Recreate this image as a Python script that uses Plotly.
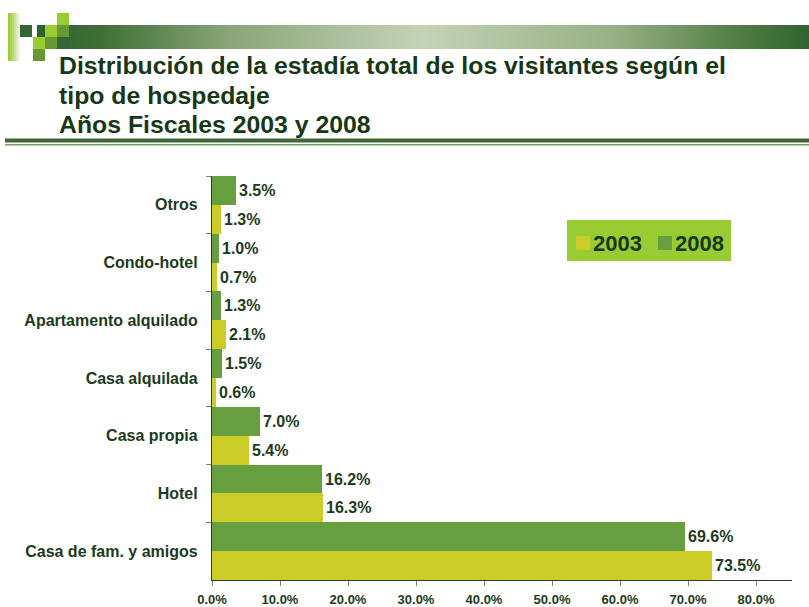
import plotly.graph_objects as go

categories = ["Casa de fam. y amigos", "Hotel", "Casa propia", "Casa alquilada",
              "Apartamento alquilado", "Condo-hotel", "Otros"]
values_2003 = [73.5, 16.3, 5.4, 0.6, 2.1, 0.7, 1.3]
values_2008 = [69.6, 16.2, 7.0, 1.5, 1.3, 1.0, 3.5]
x_tick_vals = [0, 10, 20, 30, 40, 50, 60, 70, 80]
x_tick_text = ["0.0%", "10.0%", "20.0%", "30.0%", "40.0%", "50.0%", "60.0%", "70.0%", "80.0%"]
series_names = ["2003", "2008"]
title_lines = ["Distribución de la estadía total de los visitantes según el",
               "tipo de hospedaje",
               "Años Fiscales 2003 y 2008"]

W, H = 809, 607
FONT = "Liberation Sans, Arial, sans-serif"
DARK = "#1c3b1c"
TITLE_C = "#163816"
C2003 = "#cccc29"
C2008 = "#669e40"
colors = [C2003, C2008]

fig = go.Figure()

for name, vals, col in zip(series_names, [values_2003, values_2008], colors):
    fig.add_trace(go.Bar(
        y=categories, x=vals, name=name, orientation="h",
        marker=dict(color=col, line=dict(width=0)),
        text=[f"{v:.1f}%" for v in vals], textposition="outside",
        textfont=dict(family=FONT, size=16, color=DARK, weight="bold"),
        constraintext="none", cliponaxis=False, hoverinfo="skip", showlegend=False,
    ))

# Header decoration on an overlay pixel-space axis pair
fig.add_trace(go.Scatter(
    x=[37, 809, 809, 37, 37], y=[25, 25, 49, 49, 25],
    xaxis="x2", yaxis="y2", mode="lines", line=dict(width=0),
    fill="toself",
    fillgradient=dict(type="horizontal",
                      colorscale=[[0, "#2f622f"], [0.08, "#3e6e35"], [0.25, "#8aa67a"],
                                  [0.5, "#c4d3b5"], [0.75, "#96b085"], [0.92, "#4d7a40"],
                                  [1, "#2f632f"]]),
    showlegend=False, hoverinfo="skip",
))

shapes = []
def sq(x0, y0, x1, y1, color):
    shapes.append(dict(type="rect", xref="x2", yref="y2", x0=x0, y0=y0, x1=x1, y1=y1,
                       fillcolor=color, line=dict(width=0), layer="above"))

strip = ["#9acb3b", "#a8d252", "#b8da70", "#c9e393", "#dbecb8", "#edf6dd", "#ffffff"]
for i, c in enumerate(strip):
    sq(8 + i * 2, 13, 10 + i * 2, 61, c)
sq(20, 25, 32, 37, "#336633")
sq(57, 13, 69, 25, "#99cc33")
sq(45, 25, 57, 37, "#99cc33")
sq(57, 25, 69, 37, "#669933")
sq(33, 37, 45, 49, "#99cc33")
sq(45, 37, 57, 49, "#669933")
sq(57, 37, 69, 49, "#336633")
sq(33, 49, 45, 61, "#669933")
sq(5, 138.5, 809, 142.5, "#3d6b35")
sq(5, 144, 809, 145.5, "#7a9a6e")

annotations = []
for line, yc in zip(title_lines, [65.5, 95, 124.5]):
    annotations.append(dict(
        xref="x2", yref="y2", x=57, y=yc, xanchor="left", yanchor="middle",
        text=line, align="left", showarrow=False,
        font=dict(family=FONT, size=24.8, color=TITLE_C, weight="bold"),
    ))

# Legend box (drawn manually to match the original layout)
sq(567, 220, 731, 261, "#99cc33")
for name, col, x0 in zip(series_names, colors, [576, 658]):
    sq(x0, 236, x0 + 14, 250, col)
    annotations.append(dict(
        xref="x2", yref="y2", x=x0 + 15, y=243, xanchor="left", yanchor="middle",
        text=name, showarrow=False,
        font=dict(family=FONT, size=22, color=TITLE_C, weight="bold"),
    ))

fig.update_layout(
    template="none",
    width=W, height=H,
    margin=dict(l=0, r=0, t=0, b=0, autoexpand=False),
    paper_bgcolor="white", plot_bgcolor="rgba(0,0,0,0)",
    barmode="group", bargap=0, bargroupgap=0, showlegend=False,
    font=dict(family=FONT, color=DARK),
    xaxis=dict(domain=[212 / W, 792 / W], range=[0, 85.29],
               tickvals=x_tick_vals, ticktext=x_tick_text,
               showgrid=False, zeroline=False,
               showline=True, linecolor="#264026", linewidth=1.2,
               ticks="outside", ticklen=5, tickcolor="#6a8a6a", automargin=False,
               ticklabelstandoff=2,
               tickfont=dict(family=FONT, size=13, color=DARK, weight="bold"), anchor="y"),
    yaxis=dict(domain=[(H - 580) / H, (H - 176) / H], showgrid=False, zeroline=False,
               showline=True, linecolor="#264026", linewidth=1.2, automargin=False,
               ticks="outside", ticklen=5, tickcolor="#6a8a6a", tickson="boundaries",
               ticklabelstandoff=10,
               tickfont=dict(family=FONT, size=16, color=DARK, weight="bold"), anchor="x"),
    xaxis2=dict(domain=[0, 1], range=[0, W], visible=False, fixedrange=True, anchor="y2",
                automargin=False),
    yaxis2=dict(domain=[0, 1], range=[H, 0], visible=False, fixedrange=True, anchor="x2",
                automargin=False),
    shapes=shapes, annotations=annotations,
)

fig.write_html("out.html", config={"displayModeBar": False},
               post_script="document.body.style.margin='0';")
